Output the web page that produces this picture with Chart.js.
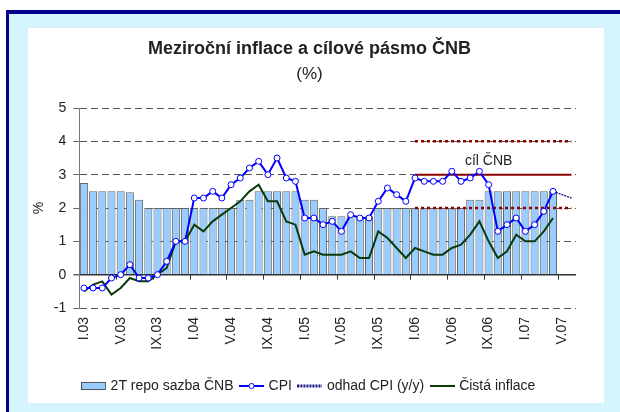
<!DOCTYPE html>
<html>
<head>
<meta charset="utf-8">
<script src="https://cdn.jsdelivr.net/npm/chart.js@4/dist/chart.umd.min.js"></script>
<style>
  html, body { margin: 0; padding: 0; background: #fff; }
  #frame {
    position: absolute; left: 6px; top: 10px; width: 614px; height: 402px;
    box-sizing: border-box; background: #D6F4FE;
    border-left: 3px solid #00008B; border-top: 4px solid #00008B;
  }
  #panel { position: absolute; left: 28px; top: 28px; width: 576px; height: 375px; background: #fff; }
  canvas { display: block; }
</style>
</head>
<body>
<div id="frame"></div>
<div id="panel"><canvas id="chart" width="576" height="375"></canvas></div>
<script>
// months I.03 .. VI.07
const labels = [
  'I.03','II.03','III.03','IV.03','V.03','VI.03','VII.03','VIII.03','IX.03','X.03','XI.03','XII.03',
  'I.04','II.04','III.04','IV.04','V.04','VI.04','VII.04','VIII.04','IX.04','X.04','XI.04','XII.04',
  'I.05','II.05','III.05','IV.05','V.05','VI.05','VII.05','VIII.05','IX.05','X.05','XI.05','XII.05',
  'I.06','II.06','III.06','IV.06','V.06','VI.06','VII.06','VIII.06','IX.06','X.06','XI.06','XII.06',
  'I.07','II.07','III.07','IV.07','V.07','VI.07'
];

// 2T repo sazba CNB (I.03 - IV.07)
const repoRate = [
  2.75, 2.5, 2.5, 2.5, 2.5, 2.47, 2.25, 2.0, 2.0, 2.0, 2.0, 2.0,
  2.0, 2.0, 2.0, 2.0, 2.0, 2.25, 2.25, 2.5, 2.5, 2.5, 2.5, 2.5,
  2.25, 2.25, 2.0, 1.75, 1.75, 1.75, 1.75, 1.75, 2.0, 2.0, 2.0, 2.0,
  2.0, 2.0, 2.0, 2.0, 2.0, 2.0, 2.25, 2.25, 2.5, 2.5, 2.5, 2.5,
  2.5, 2.5, 2.5, 2.5
];

// CPI y/y (I.03 - IV.07)
const cpi = [
  -0.4, -0.4, -0.4, -0.1, 0.0, 0.3, -0.1, -0.1, 0.0, 0.4, 1.0, 1.0,
  2.3, 2.3, 2.5, 2.3, 2.7, 2.9, 3.2, 3.4, 3.0, 3.5, 2.9, 2.8,
  1.7, 1.7, 1.5, 1.6, 1.3, 1.8, 1.7, 1.7, 2.2, 2.6, 2.4, 2.2,
  2.9, 2.8, 2.8, 2.8, 3.1, 2.8, 2.9, 3.1, 2.7, 1.3, 1.5, 1.7,
  1.3, 1.5, 1.9, 2.5
];

// odhad CPI, from IV.07
const forecastStart = 'IV.07';
const cpiForecast = [2.5, 2.4, 2.3];

// cista inflace (I.03 - IV.07)
const netInflation = [
  -0.5, -0.3, -0.2, -0.6, -0.4, -0.1, -0.2, -0.2, 0.0, 0.2, 1.0, 1.0,
  1.5, 1.3, 1.6, 1.8, 2.0, 2.2, 2.5, 2.7, 2.2, 2.2, 1.6, 1.5,
  0.6, 0.7, 0.6, 0.6, 0.6, 0.7, 0.5, 0.5, 1.3, 1.1, 0.8, 0.5,
  0.8, 0.7, 0.6, 0.6, 0.8, 0.9, 1.2, 1.6, 1.0, 0.5, 0.7, 1.2,
  1.0, 1.0, 1.3, 1.7
];

// cilove pasmo CNB, I.06 - VI.07
const targetStart = 'I.06';
const targetMid  = [3, 3, 3, 3, 3, 3, 3, 3, 3, 3, 3, 3, 3, 3, 3, 3, 3, 3];
const targetHigh = [4, 4, 4, 4, 4, 4, 4, 4, 4, 4, 4, 4, 4, 4, 4, 4, 4, 4];
const targetLow  = [2, 2, 2, 2, 2, 2, 2, 2, 2, 2, 2, 2, 2, 2, 2, 2, 2, 2];
const targetNote = 'cíl ČNB';
const noteAt = 'IX.06';
const noteValue = 3.42;

const yTicks = [-1, 0, 1, 2, 3, 4, 5];

function placeFrom(start, values) {
  const out = labels.map(() => null);
  const s = labels.indexOf(start);
  values.forEach((v, i) => { out[s + i] = v; });
  return out;
}

function icon(draw) {
  const c = document.createElement('canvas');
  c.width = 25; c.height = 10;
  draw(c.getContext('2d'));
  return c;
}

const legendIcons = {
  0: icon(g => { g.fillStyle = '#99CCFF'; g.fillRect(0.5, 1.5, 24, 7); g.strokeStyle = '#555'; g.lineWidth = 1; g.strokeRect(0.5, 1.5, 24, 7); }),
  1: icon(g => { g.strokeStyle = '#0000FF'; g.lineWidth = 2; g.beginPath(); g.moveTo(0, 5); g.lineTo(25, 5); g.stroke();
                 g.fillStyle = '#fff'; g.lineWidth = 1; g.beginPath(); g.arc(12.5, 5, 2.6, 0, Math.PI * 2); g.fill(); g.stroke(); }),
  2: icon(g => { g.strokeStyle = '#1A1A8C'; g.lineWidth = 3; g.setLineDash([2, 1]); g.beginPath(); g.moveTo(0, 5); g.lineTo(25, 5); g.stroke(); }),
  3: icon(g => { g.strokeStyle = '#0B3B0B'; g.lineWidth = 2; g.beginPath(); g.moveTo(0, 5); g.lineTo(25, 5); g.stroke(); })
};

const extras = {
  id: 'extras',
  beforeDatasetsDraw(chart) {
    const {ctx, scales: {x, y}} = chart;
    const y0 = y.getPixelForValue(0);
    ctx.save();
    ctx.strokeStyle = '#333';
    ctx.lineWidth = 1;
    for (let i = 4; i < labels.length; i += 4) {
      const px = Math.round((x.getPixelForValue(i - 1) + x.getPixelForValue(i)) / 2) + 0.5;
      ctx.beginPath();
      ctx.moveTo(px, y0);
      ctx.lineTo(px, y0 + 5);
      ctx.stroke();
    }
    ctx.restore();
  },
  afterDatasetsDraw(chart) {
    const {ctx, scales: {x, y}} = chart;
    ctx.save();
    ctx.fillStyle = '#222';
    ctx.font = '14px "Liberation Sans", Arial, sans-serif';
    ctx.textAlign = 'center';
    ctx.textBaseline = 'middle';
    ctx.fillText(targetNote, x.getPixelForValue(labels.indexOf(noteAt)), y.getPixelForValue(noteValue));
    ctx.restore();
  }
};

Chart.defaults.font.family = '"Liberation Sans", Arial, sans-serif';
Chart.defaults.color = '#222';

const defaultLabels = Chart.defaults.plugins.legend.labels.generateLabels;

new Chart(document.getElementById('chart'), {
  type: 'bar',
  data: {
    labels: labels,
    datasets: [
      {
        type: 'bar',
        label: '2T repo sazba ČNB',
        data: repoRate,
        backgroundColor: '#99CCFF',
        borderColor: '#666',
        borderWidth: 1,
        categoryPercentage: 0.9,
        barPercentage: 0.97,
        order: 10
      },
      {
        type: 'line',
        label: 'CPI',
        data: cpi,
        borderColor: '#0000FF',
        borderWidth: 2,
        pointRadius: 3,
        pointBorderWidth: 1,
        pointBackgroundColor: '#fff',
        pointBorderColor: '#0000FF',
        tension: 0,
        order: 1
      },
      {
        type: 'line',
        label: 'odhad CPI (y/y)',
        data: placeFrom(forecastStart, cpiForecast),
        borderColor: '#1A1A8C',
        borderWidth: 1.5,
        borderDash: [2, 1],
        pointRadius: 0,
        tension: 0.3,
        order: 2
      },
      {
        type: 'line',
        label: 'Čistá inflace',
        data: netInflation,
        borderColor: '#0B3B0B',
        borderWidth: 2,
        pointRadius: 0,
        tension: 0,
        order: 3
      },
      {
        type: 'line',
        label: 'cíl',
        data: placeFrom(targetStart, targetMid),
        borderColor: '#8B0000',
        borderWidth: 2,
        pointRadius: 0,
        order: 5
      },
      {
        type: 'line',
        label: 'horní mez',
        data: placeFrom(targetStart, targetHigh),
        borderColor: '#8B0000',
        borderWidth: 2.5,
        borderDash: [3, 3],
        pointRadius: 0,
        order: 5
      },
      {
        type: 'line',
        label: 'dolní mez',
        data: placeFrom(targetStart, targetLow),
        borderColor: '#8B0000',
        borderWidth: 2.5,
        borderDash: [3, 3],
        pointRadius: 0,
        order: 5
      }
    ]
  },
  options: {
    responsive: false,
    animation: false,
    devicePixelRatio: 1,
    layout: { padding: { left: 15, right: 28, top: 0, bottom: 0 } },
    plugins: {
      title: {
        display: true,
        text: 'Meziroční inflace a cílové pásmo ČNB',
        font: { size: 18, weight: 'bold' },
        color: '#222',
        padding: { top: 10, bottom: 0 }
      },
      subtitle: {
        display: true,
        text: '(%)',
        font: { size: 17 },
        color: '#222',
        padding: { top: 5, bottom: 23 }
      },
      legend: {
        position: 'bottom',
        labels: {
          usePointStyle: true,
          pointStyleWidth: 20,
          boxHeight: 10,
          padding: 8,
          font: { size: 14 },
          color: '#222',
          generateLabels: chart => defaultLabels(chart)
            .filter(item => legendIcons[item.datasetIndex])
            .map(item => Object.assign(item, { pointStyle: legendIcons[item.datasetIndex] })),
          sort: (a, b) => a.datasetIndex - b.datasetIndex
        }
      },
      tooltip: { enabled: false }
    },
    scales: {
      x: {
        offset: true,
        grid: { display: false, drawTicks: false },
        border: { display: false },
        ticks: {
          autoSkip: false,
          minRotation: 90,
          maxRotation: 90,
          padding: 9,
          font: { size: 14 },
          color: '#222',
          callback: (v, i) => (i % 4 === 0 ? labels[i] : '')
        },
        afterFit: s => { s.height = 63; }
      },
      y: {
        min: yTicks[0],
        max: yTicks[yTicks.length - 1],
        afterBuildTicks: s => { s.ticks = yTicks.map(v => ({ value: v })); },
        ticks: { padding: 7, font: { size: 14 }, color: '#222' },
        grid: {
          color: c => (c.tick && c.tick.value === 0 ? '#333' : '#555'),
          lineWidth: c => (c.tick && c.tick.value === 0 ? 1.5 : 1),
          tickColor: '#666',
          tickLength: 6
        },
        border: {
          display: true,
          color: '#777',
          dash: c => (c.tick && c.tick.value !== 0 ? [7, 4] : [])
        },
        title: { display: true, text: '%', font: { size: 14 }, color: '#222', padding: { top: -12.7, bottom: 0 } },
        afterFit: s => { s.width = 36.3; }
      }
    }
  },
  plugins: [extras]
});
</script>
</body>
</html>
